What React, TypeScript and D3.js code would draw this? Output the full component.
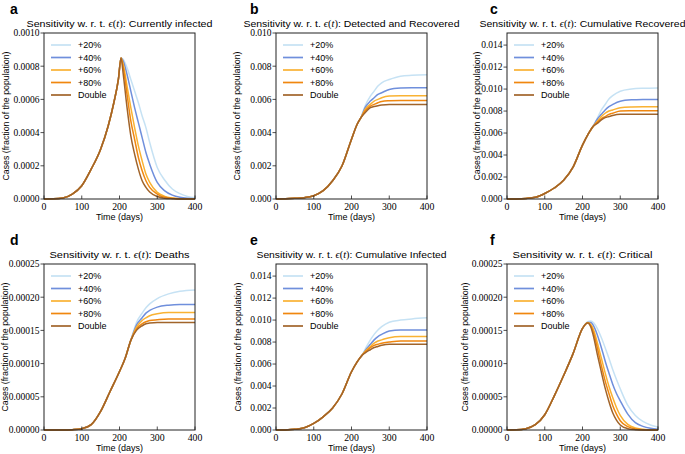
import React from 'react';
import * as d3 from 'd3';

const seriesLabels = ['+20%', '+40%', '+60%', '+80%', 'Double'];
const seriesColors = ['#c6e2f4', '#6f8fdc', '#f9b233', '#f0870f', '#a1642a'];

// a: Currently infected
const timeA = [0, 25, 50, 75, 100, 125, 150, 170, 185, 197, 204, 210, 220, 230, 240, 250, 260, 270, 280, 300, 320, 340, 360, 380, 400];
const riseA = [0, 0.000001, 0.000006, 0.00003, 0.00008, 0.00018, 0.0003, 0.00044, 0.00058, 0.00072, 0.00085];
const a20 = [...riseA, 0.00084, 0.00079, 0.00072, 0.00065, 0.00058, 0.0005, 0.00043, 0.00034, 0.00019, 0.000113, 0.00006, 0.000032, 0.000015, 0.000007];
const a40 = [...riseA, 0.00083, 0.00075, 0.00065, 0.00055, 0.00046, 0.00037, 0.00028, 0.00021, 0.0001, 0.000049, 0.000023, 0.00001, 0.000004, 0.000002];
const a60 = [...riseA, 0.00081, 0.00068, 0.00055, 0.00043, 0.00032, 0.00023, 0.00015, 0.0001, 0.00004, 0.000016, 0.000006, 0.000002, 0.000001, 0];
const a80 = [...riseA, 0.00079, 0.00063, 0.00047, 0.00036, 0.00025, 0.00017, 0.00011, 0.00007, 0.00003, 0.00001, 0.000004, 0.000001, 0, 0];
const aDouble = [...riseA, 0.00075, 0.00055, 0.00038, 0.00027, 0.00018, 0.00011, 0.00007, 0.000042, 0.000015, 0.000005, 0.000002, 0, 0, 0];

// b: Detected and Recovered
const timeB = [0, 25, 50, 75, 100, 125, 150, 175, 200, 215, 225, 236, 250, 260, 270, 280, 300, 330, 360, 400];
const riseB = [0, 0.00001, 0.00004, 0.00008, 0.0002, 0.0005, 0.0011, 0.002, 0.0036, 0.0045, 0.0049];
const b20 = [...riseB, 0.0056, 0.0062, 0.0065, 0.0068, 0.007, 0.0072, 0.0074, 0.00745, 0.00748];
const b40 = [...riseB, 0.0055, 0.0059, 0.0061, 0.0063, 0.0064, 0.0066, 0.00668, 0.0067, 0.0067];
const b60 = [...riseB, 0.0054, 0.0057, 0.0059, 0.006, 0.0061, 0.0062, 0.00622, 0.00622, 0.00622];
const b80 = [...riseB, 0.0053, 0.0056, 0.0057, 0.0058, 0.00588, 0.00592, 0.00594, 0.00594, 0.00594];
const bDouble = [...riseB, 0.0052, 0.0055, 0.00557, 0.00562, 0.00566, 0.0057, 0.0057, 0.0057, 0.0057];

// c: Cumulative Recovered
const timeC = [0, 25, 50, 75, 100, 125, 150, 175, 200, 215, 228, 240, 250, 260, 270, 280, 300, 330, 360, 400];
const riseC = [0, 0.00001, 0.00005, 0.00015, 0.0005, 0.001, 0.0017, 0.0029, 0.0049, 0.0059, 0.0066];
const c20 = [...riseC, 0.0074, 0.0081, 0.0086, 0.0091, 0.0094, 0.0098, 0.01, 0.01007, 0.0101];
const c40 = [...riseC, 0.0073, 0.0077, 0.0081, 0.0084, 0.0086, 0.0089, 0.00902, 0.00905, 0.00906];
const c60 = [...riseC, 0.0071, 0.0075, 0.0078, 0.008, 0.0081, 0.0083, 0.00837, 0.00839, 0.00839];
const c80 = [...riseC, 0.007, 0.0073, 0.0075, 0.0077, 0.0078, 0.008, 0.00802, 0.00803, 0.00803];
const cDouble = [...riseC, 0.0069, 0.0072, 0.0074, 0.0075, 0.0076, 0.0077, 0.0077, 0.0077, 0.0077];

// d: Deaths
const timeD = [0, 25, 50, 75, 100, 125, 150, 175, 200, 215, 230, 245, 260, 270, 280, 300, 330, 360, 400];
const riseD = [0, 0, 0, 0.0000005, 0.000002, 0.000008, 0.000028, 0.000058, 0.000088, 0.000108, 0.000135];
const d20 = [...riseD, 0.000162, 0.000176, 0.000184, 0.00019, 0.000198, 0.000205, 0.000209, 0.000211];
const d40 = [...riseD, 0.000158, 0.000169, 0.000176, 0.00018, 0.000185, 0.000188, 0.000189, 0.000189];
const d60 = [...riseD, 0.000155, 0.000165, 0.000169, 0.000172, 0.000175, 0.000177, 0.000177, 0.000177];
const d80 = [...riseD, 0.000152, 0.00016, 0.000163, 0.000165, 0.000166, 0.000167, 0.000167, 0.000167];
const dDouble = [...riseD, 0.00015, 0.000157, 0.00016, 0.000161, 0.000162, 0.000162, 0.000162, 0.000162];

// e: Cumulative Infected
const timeE = [0, 25, 50, 75, 100, 125, 150, 175, 200, 215, 228, 240, 250, 260, 270, 280, 300, 330, 360, 400];
const riseE = [0, 0.00001, 0.00006, 0.0002, 0.0006, 0.0012, 0.002, 0.0033, 0.0053, 0.0062, 0.0068];
const e20 = [...riseE, 0.0076, 0.0082, 0.0087, 0.0091, 0.0094, 0.0098, 0.01, 0.0101, 0.0102];
const e40 = [...riseE, 0.0074, 0.0078, 0.0082, 0.0085, 0.0087, 0.009, 0.0091, 0.0091, 0.0091];
const e60 = [...riseE, 0.0073, 0.0076, 0.0079, 0.0081, 0.0082, 0.0084, 0.0085, 0.0085, 0.0085];
const e80 = [...riseE, 0.0072, 0.0075, 0.0077, 0.0078, 0.0079, 0.008, 0.0081, 0.0081, 0.0081];
const eDouble = [...riseE, 0.0071, 0.0073, 0.0075, 0.0076, 0.0077, 0.0078, 0.0078, 0.0078, 0.0078];

// f: Critical
const timeF = [0, 25, 50, 75, 100, 125, 150, 175, 200, 214, 222, 230, 240, 250, 260, 270, 280, 290, 300, 320, 340, 360, 380, 400];
const riseF = [0, 0.0000002, 0.000002, 0.000008, 0.000023, 0.000051, 0.000082, 0.000115, 0.000153];
const f20 = [...riseF, 0.000163, 0.000164, 0.000161, 0.000152, 0.000139, 0.000124, 0.000108, 0.000091, 0.000076, 0.000062, 0.000037, 0.000022, 0.000013, 0.0000076, 0.0000045];
const f40 = [...riseF, 0.000162, 0.000162, 0.000156, 0.000142, 0.000124, 0.000104, 0.000086, 0.000069, 0.000055, 0.000044, 0.000024, 0.000011, 0.0000055, 0.0000025, 0.000001];
const f60 = [...riseF, 0.000162, 0.000159, 0.00015, 0.00013, 0.000108, 0.000086, 0.000066, 0.000049, 0.000034, 0.000022, 0.0000085, 0.000003, 0.000001, 0, 0];
const f80 = [...riseF, 0.000161, 0.000157, 0.000145, 0.000122, 0.000097, 0.000074, 0.000055, 0.000037, 0.000024, 0.000014, 0.000005, 0.0000015, 0.0000005, 0, 0];
const fDouble = [...riseF, 0.000161, 0.000155, 0.000139, 0.000112, 0.000087, 0.000063, 0.000043, 0.000026, 0.000015, 0.0000076, 0.000002, 0.0000005, 0, 0, 0];

const xTicks = [0, 100, 200, 300, 400];
const yTicksA = [0, 0.0002, 0.0004, 0.0006, 0.0008, 0.001];
const yTicksB = [0, 0.002, 0.004, 0.006, 0.008, 0.01];
const yTicksC = [0, 0.002, 0.004, 0.006, 0.008, 0.01, 0.012, 0.014];
const yTicksD = [0, 0.00005, 0.0001, 0.00015, 0.0002, 0.00025];

type PanelDef = {
  letter: string;
  name: string;
  col: number;
  row: number;
  times: number[];
  series: number[][];
  yMax: number;
  yTicks: number[];
  fmt: string;
  titleLen: number;
  ylabelGap: number;
};

const panels: PanelDef[] = [
  { letter: 'a', name: 'Currently infected', col: 0, row: 0, times: timeA, series: [a20, a40, a60, a80, aDouble], yMax: 0.001, yTicks: yTicksA, fmt: '.4f', titleLen: 186, ylabelGap: 38 },
  { letter: 'b', name: 'Detected and Recovered', col: 1, row: 0, times: timeB, series: [b20, b40, b60, b80, bDouble], yMax: 0.01, yTicks: yTicksB, fmt: '.3f', titleLen: 216, ylabelGap: 39 },
  { letter: 'c', name: 'Cumulative Recovered', col: 2, row: 0, times: timeC, series: [c20, c40, c60, c80, cDouble], yMax: 0.0151, yTicks: yTicksC, fmt: '.3f', titleLen: 206, ylabelGap: 30 },
  { letter: 'd', name: 'Deaths', col: 0, row: 1, times: timeD, series: [d20, d40, d60, d80, dDouble], yMax: 0.00025, yTicks: yTicksD, fmt: '.5f', titleLen: 140, ylabelGap: 39 },
  { letter: 'e', name: 'Cumulative Infected', col: 1, row: 1, times: timeE, series: [e20, e40, e60, e80, eDouble], yMax: 0.0151, yTicks: yTicksC, fmt: '.3f', titleLen: 190, ylabelGap: 38 },
  { letter: 'f', name: 'Critical', col: 2, row: 1, times: timeF, series: [f20, f40, f60, f80, fDouble], yMax: 0.00025, yTicks: yTicksD, fmt: '.5f', titleLen: 140, ylabelGap: 42 },
];

const colLeft = [44, 276, 507];
const labelX = [10, 250, 490];
const rowTop = [33, 264];
const W = 151;
const H = 166;
const sans = '"Liberation Sans", Arial, sans-serif';
const serif = '"Liberation Serif", "Times New Roman", serif';

function Panel({ p }: { p: PanelDef }) {
  const left = colLeft[p.col];
  const top = rowTop[p.row];
  const x = d3.scaleLinear().domain([0, 400]).range([left, left + W]);
  const y = d3.scaleLinear().domain([0, p.yMax]).range([top + H, top]);
  const fmt = d3.format(p.fmt);
  const line = d3
    .line<number>()
    .x((_, i) => x(p.times[i]))
    .y((d) => y(d))
    .curve(d3.curveMonotoneX);
  const cx = left + W / 2;
  const cy = top + H / 2;

  return (
    <g>
      <text x={labelX[p.col]} y={top - 19} fontFamily={sans} fontWeight="bold" fontSize={14}>
        {p.letter}
      </text>
      <text
        x={cx}
        y={top - 6}
        textAnchor="middle"
        fontFamily={sans}
        fontSize={9.5}
        textLength={p.titleLen}
        lengthAdjust="spacingAndGlyphs"
      >
        Sensitivity w. r. t.{' '}
        <tspan fontFamily={serif} fontStyle="italic">ϵ</tspan>
        <tspan fontFamily={serif}>(</tspan>
        <tspan fontFamily={serif} fontStyle="italic">t</tspan>
        <tspan fontFamily={serif}>)</tspan>: {p.name}
      </text>

      {p.series.map((s, i) => (
        <path key={i} d={line(s) ?? ''} fill="none" stroke={seriesColors[i]} strokeWidth={1.5} />
      ))}

      {seriesLabels.map((lab, i) => (
        <g key={lab}>
          <line
            x1={left + 7}
            x2={left + 27}
            y1={top + 12 + i * 12.5}
            y2={top + 12 + i * 12.5}
            stroke={seriesColors[i]}
            strokeWidth={1.7}
          />
          <text x={left + 34} y={top + 12 + i * 12.5 + 3.2} fontFamily={sans} fontSize={9}>
            {lab}
          </text>
        </g>
      ))}

      <rect x={left} y={top} width={W} height={H} fill="none" stroke="#222" strokeWidth={1} />

      {p.yTicks.map((t) => (
        <g key={t}>
          <line x1={left - 3.5} x2={left} y1={y(t)} y2={y(t)} stroke="#222" strokeWidth={0.8} />
          <text x={left - 4.5} y={y(t) + 3.3} textAnchor="end" fontFamily={serif} fontSize={9.5}>
            {fmt(t)}
          </text>
        </g>
      ))}

      {xTicks.map((t) => (
        <g key={t}>
          <line x1={x(t)} x2={x(t)} y1={top + H} y2={top + H - 3.5} stroke="#222" strokeWidth={0.8} />
          <text x={x(t)} y={top + H + 11} textAnchor="middle" fontFamily={serif} fontSize={9.8}>
            {t}
          </text>
        </g>
      ))}

      <text x={cx} y={top + H + 21} textAnchor="middle" fontFamily={sans} fontSize={9}>
        Time (days)
      </text>
      <text
        transform={`translate(${left - p.ylabelGap},${cy}) rotate(-90)`}
        textAnchor="middle"
        dy="0.35em"
        fontFamily={sans}
        fontSize={8.3}
        textLength={129}
        lengthAdjust="spacingAndGlyphs"
      >
        Cases (fraction of the population)
      </text>
    </g>
  );
}

export default function App() {
  return (
    <svg
      width={685}
      height={454}
      style={{ position: 'absolute', left: 0, top: 0, background: '#fff' }}
    >
      {panels.map((p) => (
        <Panel key={p.letter} p={p} />
      ))}
    </svg>
  );
}
